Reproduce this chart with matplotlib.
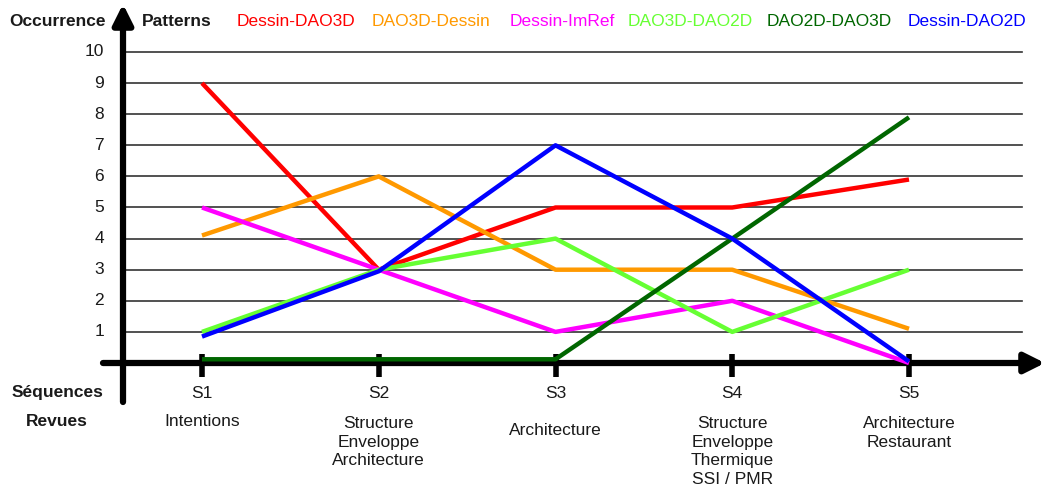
import numpy as np
import matplotlib.pyplot as plt

plt.rcParams['font.family'] = ['Liberation Sans', 'DejaVu Sans']

sequences = ['S1', 'S2', 'S3', 'S4', 'S5']
revues = ['Intentions', 'Structure\nEnveloppe\nArchitecture', 'Architecture',
          'Structure\nEnveloppe\nThermique\nSSI / PMR', 'Architecture\nRestaurant']
patterns = ['Dessin-DAO3D', 'DAO3D-Dessin', 'Dessin-ImRef',
            'DAO3D-DAO2D', 'DAO2D-DAO3D', 'Dessin-DAO2D']
colors = ['#ff0000', '#ff9900', '#ff00ff', '#66ff33', '#006600', '#0000ff']

dessin_dao3d = [9, 3, 5, 5, 5.9]
dao3d_dessin = [4.1, 6, 3, 3, 1.1]
dessin_imref = [5, 3, 1, 2, 0]
dao3d_dao2d = [1, 3, 4, 1, 3]
dao2d_dao3d = [0.12, 0.12, 0.12, 4, 7.9]
dessin_dao2d = [0.85, 2.95, 7, 4, 0.05]
series = [dessin_dao3d, dao3d_dessin, dessin_imref, dao3d_dao2d, dao2d_dao3d, dessin_dao2d]
yticks = list(range(1, 11))

W, H = 1046, 494
fig = plt.figure(figsize=(W / 100, H / 100), dpi=100)
ax = fig.add_axes([0, 0, 1, 1])

# map pixel layout of the original to data units
x0px, dxpx = 202, 176.75
y0px, dypx = 363, 31.1
def px2x(p):
    return 1 + (p - x0px) / dxpx
def px2y(p):
    return (y0px - p) / dypx

ax.set_xlim(px2x(0), px2x(W))
ax.set_ylim(px2y(H), px2y(0))
ax.axis('off')

x = np.arange(1, len(sequences) + 1)
fs = 12.5
txt = '#1a1a1a'

# horizontal grid
for v in yticks:
    ax.plot([px2x(125), px2x(1022)], [v, v], color='#333333', lw=1.2, zorder=1)
    ax.text(px2x(104), v, str(v), ha='right', va='center', fontsize=fs, color=txt)

# axes with arrows
ax.annotate('', xy=(px2x(1045), 0), xytext=(px2x(103), 0),
            arrowprops=dict(arrowstyle='-|>,head_length=1.2,head_width=0.6', lw=4.5,
                            color='black', shrinkA=0, shrinkB=0), zorder=3)
ax.annotate('', xy=(px2x(123), px2y(4)), xytext=(px2x(123), px2y(402)),
            arrowprops=dict(arrowstyle='-|>,head_length=1.2,head_width=0.6', lw=4.5,
                            color='black', shrinkA=0, shrinkB=0), zorder=3)
for xi in x:
    ax.plot([xi, xi], [px2y(354), px2y(377)], color='black', lw=4, zorder=3,
            solid_capstyle='butt')

# series
for vals, c in zip(series, colors):
    ax.plot(x, vals, color=c, lw=3.2, zorder=4, solid_capstyle='butt')

# x labels
for xi, s, r in zip(x, sequences, revues):
    ax.text(xi, px2y(393), s, ha='center', va='center', fontsize=fs, color=txt)
    top = 416 if xi != 3 else 423
    if xi == 1:
        top = 414
    ax.text(xi, px2y(top), r, ha='center', va='top', fontsize=fs,
            color=txt, linespacing=1.3)

ax.text(px2x(57), px2y(393), 'Séquences', ha='center', va='center',
        fontsize=fs, fontweight='bold', color=txt)
ax.text(px2x(57), px2y(422), 'Revues', ha='center', va='center',
        fontsize=fs, fontweight='bold', color=txt)
ax.text(px2x(57), px2y(22), 'Occurrence', ha='center', va='center',
        fontsize=fs, fontweight='bold', color=txt)
ax.text(px2x(142), px2y(22), 'Patterns', ha='left', va='center',
        fontsize=fs, fontweight='bold', color=txt)

leg_x = [237, 372, 510, 628, 767, 908]
for lx, p, c in zip(leg_x, patterns, colors):
    ax.text(px2x(lx), px2y(22), p, ha='left', va='center', fontsize=fs, color=c)

fig.savefig('out.png', dpi=100)
